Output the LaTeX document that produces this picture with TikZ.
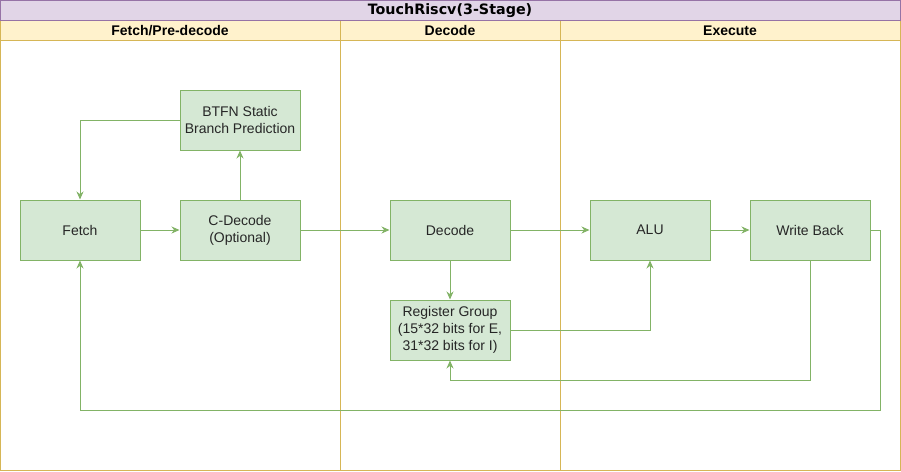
\documentclass[tikz,border=0pt]{standalone}
\usepackage{fontspec}
\setmainfont{Liberation Sans}
\newfontfamily\titlefont{DejaVu Sans}
\usetikzlibrary{arrows.meta}
\definecolor{boxfill}{HTML}{D5E8D4}
\definecolor{boxline}{HTML}{82B366}
\definecolor{titlefill}{HTML}{E1D5E7}
\definecolor{titleline}{HTML}{9673A6}
\definecolor{lanefill}{HTML}{FFF2CC}
\definecolor{laneline}{HTML}{D6B656}
\begin{document}
\begin{tikzpicture}[x=1pt,y=-1pt,
  blk/.style={draw=boxline,fill=boxfill,line width=1pt,minimum width=120pt,minimum height=60pt,inner sep=0pt,align=center,font=\fontsize{14}{17}\selectfont,text=black!85},
  conn/.style={draw=boxline,line width=1pt,-{Stealth[length=8pt,width=7pt]}},
  lanehead/.style={font=\fontsize{14}{16}\selectfont\bfseries},
]
\useasboundingbox (0,0) rectangle (901,471);
% lanes
\fill[white] (0,0) rectangle (900,470);
\filldraw[fill=lanefill,draw=laneline,line width=1pt] (0,20) rectangle (900,40);
\draw[laneline,line width=1pt] (0,20) rectangle (900,470);
\draw[laneline,line width=1pt] (340,20) -- (340,470);
\draw[laneline,line width=1pt] (560,20) -- (560,470);
\filldraw[fill=titlefill,draw=titleline,line width=1pt] (0,0.5) rectangle (900,20);
\node[font=\titlefont\fontsize{14.3}{16}\selectfont\bfseries] (title) at (450,10.5) {TouchRiscv(3-Stage)};
\node[lanehead] (l1) at (170,30.5) {Fetch/Pre-decode};
\node[lanehead] (l2) at (450,30.5) {Decode};
\node[lanehead] (l3) at (730,30.5) {Execute};
% nodes
\node[blk] (fetch) at (80,230) {Fetch};
\node[blk] (cdec) at (240,230) {C-Decode\\(Optional)};
\node[blk] (btfn) at (240,120) {BTFN Static\\Branch Prediction};
\node[blk] (dec) at (450,230) {Decode};
\node[blk] (reg) at (450,330) {Register Group\\(15*32 bits for E,\\31*32 bits for I)};
\node[blk] (alu) at (650,230) {ALU};
\node[blk] (wb) at (810,230) {Write Back};
% connectors
\draw[conn] (fetch) -- (cdec);
\draw[conn] (cdec) -- (btfn);
\draw[conn] (btfn.west) -| (fetch.north);
\draw[conn] (cdec) -- (dec);
\draw[conn] (dec) -- (reg);
\draw[conn] (dec) -- (alu);
\draw[conn] (reg.east) -| (alu.south);
\draw[conn] (alu) -- (wb);
\draw[conn] (wb.south) -- (810,380) -| (reg.south);
\draw[conn] (wb.east) -- (880,230) -- (880,410) -| (fetch.south);
\end{tikzpicture}
\end{document}
